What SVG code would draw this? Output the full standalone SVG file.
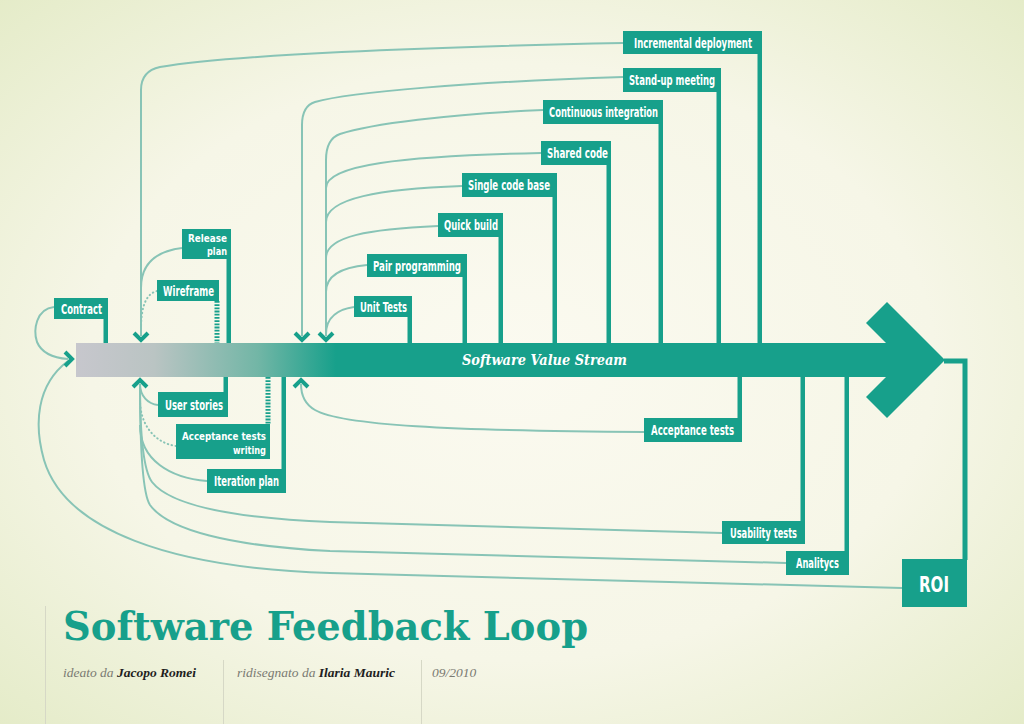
<svg xmlns="http://www.w3.org/2000/svg" width="1024" height="724" viewBox="0 0 1024 724">
<defs>
<radialGradient id="bg" cx="50%" cy="50%" r="75%">
<stop offset="0" stop-color="#fbfaf0"/>
<stop offset="0.55" stop-color="#f6f6e7"/>
<stop offset="1" stop-color="#e2eac4"/>
</radialGradient>
<linearGradient id="barg" gradientUnits="userSpaceOnUse" x1="76" y1="0" x2="336" y2="0">
<stop offset="0" stop-color="#c7c7cd"/>
<stop offset="0.3" stop-color="#bac4c3"/>
<stop offset="0.7" stop-color="#72b6a6"/>
<stop offset="1" stop-color="#17a08b"/>
</linearGradient>
<style>
.box{fill:#17a08b}
.lbl{font-family:"DejaVu Sans Condensed","Liberation Sans Narrow","DejaVu Sans",sans-serif;font-stretch:condensed;font-weight:bold;font-size:13.5px;fill:#ffffff}
.two{font-size:11px}
.stem{stroke:#17a08b;stroke-width:4.5;fill:none}
.dash{stroke:#17a08b;stroke-width:5;stroke-dasharray:1.8 1.4;fill:none}
.thin{stroke:#88c4b6;stroke-width:2;fill:none}
.dot{stroke:#88c4b6;stroke-width:2;stroke-dasharray:0.5 3.5;stroke-linecap:round;fill:none}
.chev{stroke:#17a08b;stroke-width:4;fill:none}
.sub{font-family:"Liberation Serif","DejaVu Serif",serif;font-style:italic;font-size:13.5px;fill:#7a7a72}
.name{font-weight:bold;fill:#1e1e1e}
.sep{stroke:#d6d8c6;stroke-width:1}
</style>
</defs>
<rect x="0" y="0" width="1024" height="724" fill="url(#bg)"/>

<g id="value-stream">
<polygon points="76,343 886,343 866,323 887,302 945,360 887,418 866,397 886,377 76,377" fill="url(#barg)"/>
<text x="462" y="365" textLength="165" lengthAdjust="spacingAndGlyphs" font-family="'DejaVu Serif','Liberation Serif',serif" font-weight="bold" font-style="italic" font-size="15" fill="#ffffff">Software Value Stream</text>
</g>

<g id="connectors">
<path class="thin" d="M623,43 C 420,47 230,55 160,67 Q 141,71 141,90 L 141,336"/>
<path class="thin" d="M182,248 C 158,251 141,262 141,288"/>
<path class="dot" d="M157,291 C 146,294 141,306 141,330"/>
<path class="thin" d="M623,77 C 470,82 350,92 315,102 Q 302,106 302,125 L 302,336"/>
<path class="thin" d="M543,110 C 450,114 370,124 340,134 Q 326,139 326,160 L 326,336"/>
<path class="thin" d="M541,153 C 400,156 326,165 326,188"/>
<path class="thin" d="M462,186 C 380,189 326,198 326,222"/>
<path class="thin" d="M438,226 C 370,229 326,236 326,258"/>
<path class="thin" d="M367,265 C 345,267 326,274 326,292"/>
<path class="thin" d="M354,307 C 340,309 326,316 326,334"/>
<path class="thin" d="M158,405 C 148,404 140,396 140,384"/>
<path class="dot" d="M176,446 C 155,443 140,425 140,400"/>
<path class="thin" d="M207,481 C 170,478 140,460 140,425"/>
<path class="thin" d="M722,533 L 330,522 C 230,518 170,505 152,482 Q 140,466 140,384"/>
<path class="thin" d="M786,563 L 330,551 C 230,546 168,530 150,505 Q 140,490 140,384"/>
<path class="thin" d="M902,588 L 330,573 C 170,568 65,530 44,460 C 34,425 36,385 68,361"/>
<path class="thin" d="M54,307 C 36,309 33,330 37,342 C 42,354 55,358 68,359"/>
<path class="thin" d="M644,432 C 450,431 340,425 315,410 Q 301,402 301,384"/>
<polyline class="chev" points="134,333 141,340 148,333"/>
<polyline class="chev" points="295,333 302,340 309,333"/>
<polyline class="chev" points="319,333 326,340 333,333"/>
<polyline class="chev" points="133,387 140,380 147,387"/>
<polyline class="chev" points="294,387 301,380 308,387"/>
<polyline class="chev" points="65,352 72,359 65,366"/>
<line class="stem" x1="759.75" y1="54" x2="759.75" y2="343"/>
<line class="stem" x1="718.75" y1="91" x2="718.75" y2="343"/>
<line class="stem" x1="660.75" y1="123" x2="660.75" y2="343"/>
<line class="stem" x1="608.75" y1="164" x2="608.75" y2="343"/>
<line class="stem" x1="554.75" y1="196" x2="554.75" y2="343"/>
<line class="stem" x1="500.75" y1="236" x2="500.75" y2="343"/>
<line class="stem" x1="464.75" y1="276" x2="464.75" y2="343"/>
<line class="stem" x1="409.75" y1="316" x2="409.75" y2="343"/>
<line class="stem" x1="228.75" y1="258" x2="228.75" y2="343"/>
<line class="dash" x1="217" y1="301" x2="217" y2="343"/>
<line class="stem" x1="105.75" y1="318" x2="105.75" y2="343"/>
<line class="stem" x1="225.75" y1="377" x2="225.75" y2="393"/>
<line class="dash" x1="268" y1="377" x2="268" y2="424"/>
<line class="stem" x1="283.75" y1="377" x2="283.75" y2="470"/>
<line class="stem" x1="739.75" y1="377" x2="739.75" y2="419"/>
<line class="stem" x1="802.75" y1="377" x2="802.75" y2="522"/>
<line class="stem" x1="846.75" y1="377" x2="846.75" y2="552"/>
<polyline class="stem" points="944,361 965,361 965,560" style="stroke-width:5"/>
</g>

<g id="incremental-deployment"><rect class="box" x="623" y="31" width="139" height="23"/><text class="lbl" x="634" y="47.5" textLength="118" lengthAdjust="spacingAndGlyphs">Incremental deployment</text></g>
<g id="stand-up-meeting"><rect class="box" x="623" y="68" width="98" height="24"/><text class="lbl" x="629" y="85" textLength="86" lengthAdjust="spacingAndGlyphs">Stand-up meeting</text></g>
<g id="continuous-integration"><rect class="box" x="543" y="100" width="120" height="24"/><text class="lbl" x="549" y="117" textLength="109" lengthAdjust="spacingAndGlyphs">Continuous integration</text></g>
<g id="shared-code"><rect class="box" x="541" y="141" width="70" height="24"/><text class="lbl" x="547" y="158" textLength="61" lengthAdjust="spacingAndGlyphs">Shared code</text></g>
<g id="single-code-base"><rect class="box" x="462" y="173" width="95" height="24"/><text class="lbl" x="468" y="190" textLength="82" lengthAdjust="spacingAndGlyphs">Single code base</text></g>
<g id="quick-build"><rect class="box" x="438" y="213" width="65" height="24"/><text class="lbl" x="444" y="230" textLength="54" lengthAdjust="spacingAndGlyphs">Quick build</text></g>
<g id="pair-programming"><rect class="box" x="367" y="254" width="100" height="23"/><text class="lbl" x="373" y="270.5" textLength="88" lengthAdjust="spacingAndGlyphs">Pair programming</text></g>
<g id="unit-tests"><rect class="box" x="354" y="296" width="58" height="21"/><text class="lbl" x="360" y="311.5" textLength="47" lengthAdjust="spacingAndGlyphs">Unit Tests</text></g>
<g id="release-plan"><rect class="box" x="182" y="229" width="49" height="30"/><text class="lbl two" x="188" y="241.5" textLength="39" lengthAdjust="spacingAndGlyphs">Release</text><text class="lbl two" x="207" y="255" textLength="20" lengthAdjust="spacingAndGlyphs">plan</text></g>
<g id="wireframe"><rect class="box" x="157" y="280" width="62" height="21"/><text class="lbl" x="163" y="295.5" textLength="51" lengthAdjust="spacingAndGlyphs">Wireframe</text></g>
<g id="contract"><rect class="box" x="54" y="298" width="54" height="21"/><text class="lbl" x="61" y="313.5" textLength="41" lengthAdjust="spacingAndGlyphs">Contract</text></g>
<g id="user-stories"><rect class="box" x="158" y="392" width="70" height="25"/><text class="lbl" x="165" y="410" textLength="58" lengthAdjust="spacingAndGlyphs">User stories</text></g>
<g id="acceptance-tests-writing"><rect class="box" x="176" y="424" width="94" height="35"/><text class="lbl two" x="182" y="439.5" textLength="84" lengthAdjust="spacingAndGlyphs">Acceptance tests</text><text class="lbl two" x="233" y="453.5" textLength="33" lengthAdjust="spacingAndGlyphs">writing</text></g>
<g id="iteration-plan"><rect class="box" x="207" y="469" width="79" height="24"/><text class="lbl" x="214" y="486" textLength="65" lengthAdjust="spacingAndGlyphs">Iteration plan</text></g>
<g id="acceptance-tests"><rect class="box" x="644" y="418" width="98" height="24"/><text class="lbl" x="651" y="435" textLength="83" lengthAdjust="spacingAndGlyphs">Acceptance tests</text></g>
<g id="usability-tests"><rect class="box" x="722" y="521" width="83" height="23"/><text class="lbl" x="730" y="537.5" textLength="67" lengthAdjust="spacingAndGlyphs">Usability tests</text></g>
<g id="analitycs"><rect class="box" x="786" y="551" width="63" height="24"/><text class="lbl" x="796" y="568" textLength="43" lengthAdjust="spacingAndGlyphs">Analitycs</text></g>
<g id="roi"><rect class="box" x="902" y="559" width="65" height="48"/><text class="lbl" x="919" y="592" textLength="30" lengthAdjust="spacingAndGlyphs" style="font-size:22px">ROI</text></g>

<g id="title">
<text x="63" y="640" textLength="525" lengthAdjust="spacingAndGlyphs" font-family="'DejaVu Serif','Liberation Serif',serif" font-weight="bold" font-size="40" fill="#17a08b">Software Feedback Loop</text>
<line class="sep" x1="45.5" y1="606" x2="45.5" y2="724"/>
<line class="sep" x1="223.5" y1="660" x2="223.5" y2="724"/>
<line class="sep" x1="421.5" y1="660" x2="421.5" y2="724"/>
<text class="sub" x="63" y="677">ideato da <tspan class="name">Jacopo Romei</tspan></text>
<text class="sub" x="237" y="677">ridisegnato da <tspan class="name">Ilaria Mauric</tspan></text>
<text class="sub" x="432" y="677">09/2010</text>
</g>
</svg>
